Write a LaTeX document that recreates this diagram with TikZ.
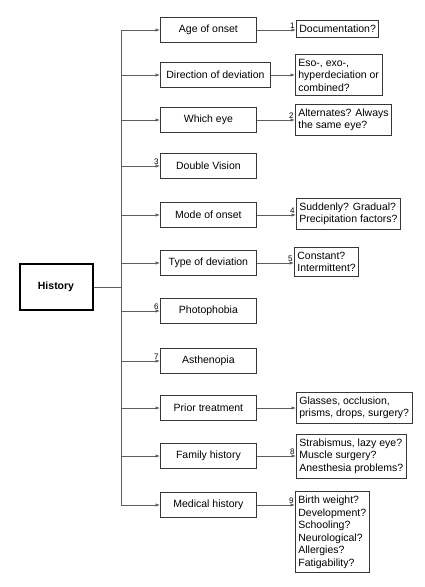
\documentclass[tikz,border=0pt]{standalone}
\usepackage{fontspec}
\setmainfont{Liberation Sans}
\definecolor{boxgray}{RGB}{55, 55, 55}
\definecolor{linegray}{RGB}{95, 95, 95}
\usetikzlibrary{arrows.meta, positioning}

\begin{document}
\begin{tikzpicture}[x=1pt, y=-1pt,
  topic/.style={draw=boxgray, line width=0.8pt, anchor=west, minimum width=96pt, minimum height=25pt, inner xsep=6pt, font=\fontsize{10.5}{12.5}\selectfont},
  note/.style={draw=boxgray, line width=0.8pt, anchor=west, align=left, inner xsep=3pt, inner ysep=4.5pt, font=\fontsize{10.5}{12.5}\selectfont},
  link/.style={linegray, line width=0.7pt},
  arr/.style={link, -{Latex[length=4.5pt, width=3.5pt]}},
  num/.style={pos=1, above left, inner sep=1pt, text=black, font=\fontsize{8}{9}\selectfont}]
  \useasboundingbox (0, 0) rectangle (424, 587);

  % Root
  \node[draw=black, line width=2pt, minimum width=73pt, minimum height=46pt, font=\fontsize{10.5}{12}\selectfont\bfseries] (hist) at (56, 287) {History};
  \coordinate (trunk) at (121, 287);

  % Topics
  \node[topic] (age) at (160, 30) {Age of onset};
  \node[topic] (dir) at (160, 75) {Direction of deviation};
  \node[topic] (eye) at (160, 120) {Which eye};
  \node[topic] (dbl) at (160, 166) {Double Vision};
  \node[topic] (mode) at (160, 215) {Mode of onset};
  \node[topic] (type) at (160, 263) {Type of deviation};
  \node[topic] (photo) at (160, 311) {Photophobia};
  \node[topic] (asth) at (160, 361) {Asthenopia};
  \node[topic] (prior) at (160, 408) {Prior treatment};
  \node[topic] (fam) at (160, 456) {Family history};
  \node[topic] (med) at (160, 505) {Medical history};

  % Notes
  \node[note] (agenote) at (296, 29) {Documentation?};
  \node[note] (dirnote) at (295, 75) {Eso-, exo-,\\hyperdeciation or\\combined?};
  \node[note] (eyenote) at (295, 120) {Alternates? Always\\the same eye?};
  \node[note] (modenote) at (296, 214) {Suddenly? Gradual?\\Precipitation factors?};
  \node[note] (typenote) at (294, 262) {Constant?\\Intermittent?};
  \node[note] (priornote) at (296, 408) {Glasses, occlusion,\\prisms, drops, surgery?};
  \node[note] (famnote) at (296, 456) {Strabismus, lazy eye?\\Muscle surgery?\\Anesthesia problems?};
  \node[note, anchor=north west] (mednote) at (295, 491) {Birth weight?\\Development?\\Schooling?\\Neurological?\\Allergies?\\Fatigability?};

  % Trunk
  \draw[link] (hist.east) -- (trunk);
  \draw[link] (trunk |- age.west) -- (trunk |- med.west);
  \draw[arr] (trunk |- age.west) -- (age.west);
  \draw[arr] (trunk |- dir.west) -- (dir.west);
  \draw[arr] (trunk |- eye.west) -- (eye.west);
  \draw[arr] (trunk |- dbl.west) -- (dbl.west) node[num] {3};
  \draw[arr] (trunk |- mode.west) -- (mode.west);
  \draw[arr] (trunk |- type.west) -- (type.west);
  \draw[arr] (trunk |- photo.west) -- (photo.west) node[num] {6};
  \draw[arr] (trunk |- asth.west) -- (asth.west) node[num] {7};
  \draw[arr] (trunk |- prior.west) -- (prior.west);
  \draw[arr] (trunk |- fam.west) -- (fam.west);
  \draw[arr] (trunk |- med.west) -- (med.west);

  % Topic to note
  \draw[arr] (age.east) -- (age.east -| agenote.west) node[num] {1};
  \draw[arr] (dir.east) -- (dir.east -| dirnote.west);
  \draw[arr] (eye.east) -- (eye.east -| eyenote.west) node[num] {2};
  \draw[arr] (mode.east) -- (mode.east -| modenote.west) node[num] {4};
  \draw[arr] (type.east) -- (type.east -| typenote.west) node[num] {5};
  \draw[arr] (prior.east) -- (prior.east -| priornote.west);
  \draw[arr] (fam.east) -- (fam.east -| famnote.west) node[num] {8};
  \draw[arr] (med.east) -- (med.east -| mednote.west) node[num] {9};
\end{tikzpicture}
\end{document}
